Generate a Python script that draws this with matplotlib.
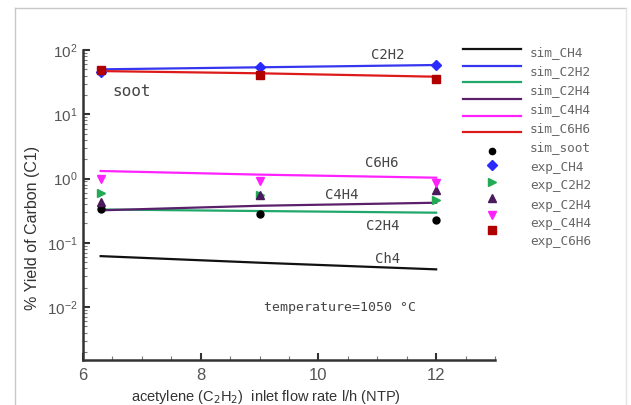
import matplotlib
matplotlib.use("Agg")
import matplotlib.pyplot as plt
from matplotlib.lines import Line2D
from matplotlib.ticker import LogLocator, MultipleLocator, LogFormatterSciNotation
import numpy as np

# ---- data ----
x_flow = [6.3, 9.0, 12.0]
sim_CH4 = [0.062, 0.049, 0.0386]
sim_C2H2 = [50.0, 53.8, 58.4]
sim_C2H4 = [0.33, 0.312, 0.294]
sim_C4H4 = [0.32, 0.377, 0.42]
sim_C6H6 = [1.31, 1.15, 1.03]
sim_soot_line = [47.0, 43.4, 38.4]
pts_black = [0.335, 0.28, 0.226]
pts_blue = [45.0, 53.8, 58.4]
pts_green = [0.59, 0.55, 0.46]
pts_purple = [0.435, 0.55, 0.66]
pts_magenta = [1.0, 0.92, 0.86]
pts_red = [48.9, 40.8, 35.0]

line_labels = ["sim_CH4", "sim_C2H2", "sim_C2H4", "sim_C4H4", "sim_C6H6"]
marker_labels = ["sim_soot", "exp_CH4", "exp_C2H2", "exp_C2H4", "exp_C4H4", "exp_C6H6"]

W, H = 631, 405
fig = plt.figure(figsize=(W / 100, H / 100), dpi=100)
ax = fig.add_axes([83 / W, 1 - 360 / H, (495 - 83) / W, (360 - 50) / H])

c_black = "#111111"
c_blue = "#3636f0"
c_green = "#20a86a"
c_purple = "#5b1f6b"
c_mag = "#ff22ff"
c_red = "#dd1a1a"

lw = 1.6
ax.plot(x_flow, sim_CH4, color=c_black, lw=lw)
ax.plot(x_flow, sim_C2H2, color=c_blue, lw=lw)
ax.plot(x_flow, sim_C2H4, color=c_green, lw=lw)
ax.plot(x_flow, sim_C4H4, color=c_purple, lw=lw)
ax.plot(x_flow, sim_C6H6, color=c_mag, lw=lw)
ax.plot(x_flow, sim_soot_line, color=c_red, lw=lw)

ax.plot(x_flow, pts_black, ls="none", marker="o", ms=5, color="black")
ax.plot(x_flow, pts_green, ls="none", marker=">", ms=5.5, color="#22aa55")
ax.plot(x_flow, pts_purple, ls="none", marker="^", ms=6, color="#4a1a5c")
ax.plot(x_flow, pts_magenta, ls="none", marker="v", ms=6, color="#ff22ff")
ax.plot(x_flow, pts_blue, ls="none", marker="D", ms=5, color="#2a2aff")
ax.plot(x_flow, pts_red, ls="none", marker="s", ms=6, color="#b00000")

ax.set_yscale("log")
ax.set_xlim(6, 13)
ax.set_ylim(1.5e-3, 100)

for s in ["top", "right"]:
    ax.spines[s].set_visible(False)
for s in ["left", "bottom"]:
    ax.spines[s].set_linewidth(1.8)
    ax.spines[s].set_color("#333333")

ax.set_xticks([6, 8, 10, 12])
ax.xaxis.set_minor_locator(MultipleLocator(0.5))
ax.yaxis.set_minor_locator(LogLocator(base=10, subs=np.arange(2, 10), numticks=20))
ax.yaxis.set_major_formatter(LogFormatterSciNotation())
ax.set_yticks([1e-2, 1e-1, 1, 10, 100])
ax.tick_params(axis="both", which="major", direction="in", length=5, width=1.5,
               colors="#333333", labelcolor="#555555", labelsize=11)
ax.tick_params(axis="both", which="minor", direction="in", length=3, width=0.8, colors="#777777")
ax.tick_params(axis="x", labelsize=12, pad=6)
ax.tick_params(axis="y", pad=4)
for t in ax.get_xticklabels() + ax.get_yticklabels():
    t.set_family("Liberation Sans")

fig.text(266 / W, 1 - 397 / H, "acetylene (C$_2$H$_2$)  inlet flow rate l/h (NTP)",
         ha="center", va="center", fontsize=10.5, color="#333333", family="Liberation Sans")
fig.text(33 / W, 1 - 228 / H, "% Yield of Carbon (C1)", rotation=90,
         ha="center", va="center", fontsize=11.5, color="#333333", family="Liberation Sans")

# annotations
ann_font = dict(family="DejaVu Sans Mono", color="#444444", ha="center", va="center")
fig.text(388 / W, 1 - 55 / H, "C2H2", fontsize=10, **ann_font)
fig.text(132 / W, 1 - 92 / H, "soot", fontsize=11.5, **ann_font)
fig.text(382 / W, 1 - 163 / H, "C6H6", fontsize=10, **ann_font)
fig.text(342 / W, 1 - 195 / H, "C4H4", fontsize=10, **ann_font)
fig.text(383 / W, 1 - 226 / H, "C2H4", fontsize=10, **ann_font)
fig.text(388 / W, 1 - 259 / H, "Ch4", fontsize=10, **ann_font)
fig.text(340 / W, 1 - 308 / H, "temperature=1050 \u00b0C", fontsize=9.5, **ann_font)

# manual legend (symbols and labels drift apart as in the original)
line_cols = [c_black, c_blue, c_green, c_purple, c_mag, c_red]
line_ys = [49.3, 65.7, 82.3, 99, 115.7, 132]
for yy, cc in zip(line_ys, line_cols):
    fig.add_artist(Line2D([463 / W, 521 / W], [1 - yy / H, 1 - yy / H], color=cc, lw=1.6))
mk = [("o", "black", 4.5), ("D", "#2a2aff", 5), (">", "#22aa55", 5.5),
      ("^", "#4a1a5c", 5.5), ("v", "#ff22ff", 5.5), ("s", "#b00000", 5.5)]
mk_ys = [151, 165, 182, 198, 215, 230]
for yy, (m, cc, sz) in zip(mk_ys, mk):
    fig.add_artist(Line2D([492 / W], [1 - yy / H], marker=m, color=cc, ms=sz, ls="none"))
label_ys = [52.7, 71.7, 91, 110, 129, 148, 168, 186, 205, 223, 242]
for yy, lab in zip(label_ys, line_labels + marker_labels):
    fig.text(530 / W, 1 - yy / H, lab, ha="left", va="center", fontsize=9.2,
             family="DejaVu Sans Mono", color="#666666")

# light frame
fc = "#c8c8c8"
fig.add_artist(Line2D([15 / W, 15 / W], [0, 1 - 8 / H], color=fc, lw=1))
fig.add_artist(Line2D([15 / W, 626 / W], [1 - 8 / H, 1 - 8 / H], color=fc, lw=1))
fig.add_artist(Line2D([626 / W, 626 / W], [0, 1 - 8 / H], color="#e4e4e4", lw=1))

fig.savefig("out.png", dpi=100)
